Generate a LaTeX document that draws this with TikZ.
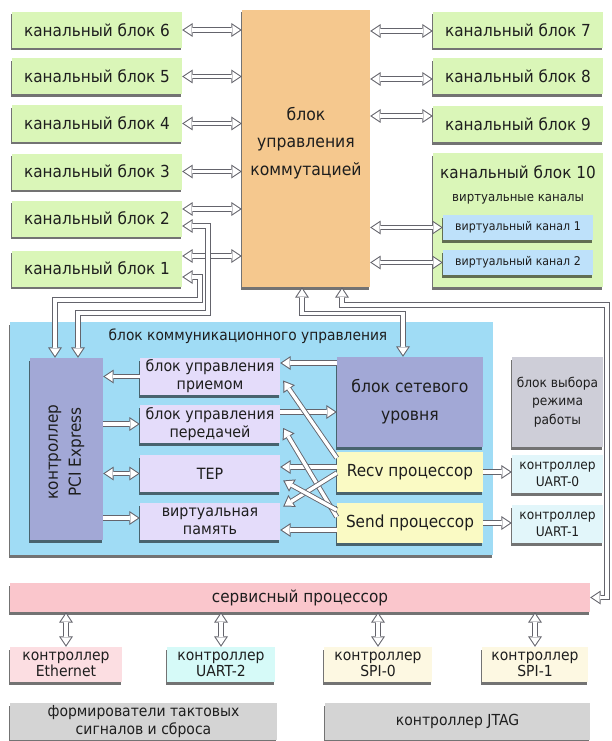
\documentclass[tikz,border=0pt]{standalone}
\usepackage{fontspec}
\setmainfont{DejaVu Sans}[FakeStretch=0.92]
\usetikzlibrary{arrows.meta,shadows}
\definecolor{txt}{RGB}{30,30,30}
\definecolor{agray}{RGB}{100,100,108}
\definecolor{cgreen}{RGB}{218,246,184}
\definecolor{corange}{RGB}{245,200,142}
\definecolor{cvc}{RGB}{190,225,250}
\definecolor{ccomm}{RGB}{160,220,245}
\definecolor{cpci}{RGB}{162,168,214}
\definecolor{clav}{RGB}{228,220,250}
\definecolor{cyel}{RGB}{250,250,196}
\definecolor{cmode}{RGB}{206,206,216}
\definecolor{cuart}{RGB}{226,246,250}
\definecolor{csp}{RGB}{250,198,204}
\definecolor{ceth}{RGB}{252,222,226}
\definecolor{cua2}{RGB}{214,250,248}
\definecolor{cspi}{RGB}{253,248,226}
\definecolor{cbot}{RGB}{212,212,212}
\tikzset{
  ho/.tip={Triangle[length=10.5pt, width=14pt, line width=0pt]},
  hi/.tip={Triangle[length=7.6pt, width=10.2pt, line width=0pt]},
  aout/.style={draw=agray, fill=none, line width=5.2pt},
  ain/.style={draw=white, fill=none, line width=3.4pt},
}
% hollow double arrow, tips at both ends / at the end only
\newcommand\harrB[1]{\draw[aout, ho-ho] #1; \draw[ain, hi-hi, shorten >=1.85pt, shorten <=1.85pt] #1;}
\newcommand\harrE[1]{\draw[aout, -ho] #1; \draw[ain, -hi, shorten >=1.85pt] #1;}
\begin{document}
\begin{tikzpicture}[x=1pt,y=-1pt,
  box/.style={draw=none, inner sep=1pt, align=center, text=txt,
    drop shadow={shadow xshift=-1pt, shadow yshift=-2.5pt, fill=black, opacity=0.55}},
  chan/.style={box, fill=cgreen, minimum width=170pt, minimum height=36pt, font=\fontsize{16.6}{19}\selectfont},
]
\useasboundingbox (0,0) rectangle (611,741);

% ---- channel blocks, left
\node[chan] (b6) at (97,30) {канальный блок 6};
\node[chan] (b5) at (97,76.5) {канальный блок 5};
\node[chan] (b4) at (97,123.5) {канальный блок 4};
\node[chan] (b3) at (97,171.5) {канальный блок 3};
\node[chan] (b2) at (97,218.5) {канальный блок 2};
\node[chan] (b1) at (97,268.5) {канальный блок 1};

% ---- switch control
\node[box, fill=corange, minimum width=128pt, minimum height=277pt] (kom) at (306,148.5) {};
\node[text=txt, align=center, font=\fontsize{17}{27.5}\selectfont] (komt) at (306,143) {блок\\управления\\коммутацией};

% ---- channel blocks, right
\node[chan] (b7) at (518,30) {канальный блок 7};
\node[chan] (b8) at (518,76.5) {канальный блок 8};
\node[chan] (b9) at (518,124) {канальный блок 9};
\node[box, fill=cgreen, minimum width=170pt, minimum height=134pt] (b10) at (518,220) {};
\node[text=txt, font=\fontsize{16.6}{19}\selectfont] (b10t) at (518,172) {канальный блок 10};
\node[text=txt, font=\fontsize{12.8}{15}\selectfont] (b10s) at (518,199) {виртуальные каналы};
\node[box, fill=cvc, minimum width=150pt, minimum height=25pt, font=\fontsize{12}{14}\selectfont] (vc1) at (518,227.5) {виртуальный канал 1};
\node[box, fill=cvc, minimum width=150pt, minimum height=25pt, font=\fontsize{12}{14}\selectfont] (vc2) at (518,262.5) {виртуальный канал 2};

% ---- communication block
\node[box, fill=ccomm, minimum width=483pt, minimum height=233pt] (comm) at (251.5,438.5) {};
\node[text=txt, font=\fontsize{15}{17}\selectfont] (commt) at (248,336) {блок коммуникационного управления};

\node[box, fill=cpci, minimum width=73pt, minimum height=182pt] (pci) at (66.5,449) {};
\node[text=txt, rotate=90, align=center, font=\fontsize{16.6}{23}\selectfont] (pcit) at (66.5,452) {контроллер\\PCI Express};

\node[box, fill=clav, minimum width=140pt, minimum height=37pt, font=\fontsize{15.5}{18}\selectfont] (rx) at (210,376.5) {блок управления\\приемом};
\node[box, fill=clav, minimum width=140pt, minimum height=38pt, font=\fontsize{15.5}{18}\selectfont] (tx) at (210,424) {блок управления\\передачей};
\node[box, fill=clav, minimum width=140pt, minimum height=37pt, font=\fontsize{15.5}{18}\selectfont] (tep) at (210,473.5) {TEP};
\node[box, fill=clav, minimum width=140pt, minimum height=37pt, font=\fontsize{15.5}{18}\selectfont] (vm) at (210,521.5) {виртуальная\\память};

\node[box, fill=cpci, minimum width=146pt, minimum height=90pt, font=\fontsize{17}{28}\selectfont] (net) at (410,402) {блок сетевого\\уровня};
\node[box, fill=cyel, minimum width=146pt, minimum height=40pt, font=\fontsize{16.6}{18}\selectfont] (recv) at (410,472) {Recv процессор};
\node[box, fill=cyel, minimum width=146pt, minimum height=40pt, font=\fontsize{16.6}{18}\selectfont] (send) at (410,523) {Send процессор};

\node[box, fill=cmode, minimum width=91pt, minimum height=90pt, font=\fontsize{13.3}{18.5}\selectfont] (mode) at (557.5,402) {блок выбора\\режима\\работы};
\node[box, fill=cuart, minimum width=91pt, minimum height=38pt, font=\fontsize{13.3}{17}\selectfont] (u0) at (557.5,474) {контроллер\\UART-0};
\node[box, fill=cuart, minimum width=91pt, minimum height=38pt, font=\fontsize{13.3}{17}\selectfont] (u1) at (557.5,524) {контроллер\\UART-1};

% ---- service processor and peripherals
\node[box, fill=csp, minimum width=580pt, minimum height=29pt, font=\fontsize{16.6}{18}\selectfont] (sp) at (300,597.5) {сервисный процессор};
\node[box, fill=ceth, minimum width=112pt, minimum height=35pt, font=\fontsize{15.2}{16.5}\selectfont] (eth) at (66,664.5) {контроллер\\Ethernet};
\node[box, fill=cua2, minimum width=108pt, minimum height=35pt, font=\fontsize{15.2}{16.5}\selectfont] (ua2) at (221,664.5) {контроллер\\UART-2};
\node[box, fill=cspi, minimum width=108pt, minimum height=35pt, font=\fontsize{15.2}{16.5}\selectfont] (spi0) at (378,664.5) {контроллер\\SPI-0};
\node[box, fill=cspi, minimum width=106pt, minimum height=35pt, font=\fontsize{15.2}{16.5}\selectfont] (spi1) at (535,664.5) {контроллер\\SPI-1};
\node[box, fill=cbot, minimum width=267pt, minimum height=37pt, font=\fontsize{15.2}{18}\selectfont] (clk) at (143.5,721.5) {формирователи тактовых\\сигналов и сброса};
\node[box, fill=cbot, minimum width=265pt, minimum height=37pt, font=\fontsize{15.2}{18}\selectfont] (jtag) at (457.5,721.5) {контроллер JTAG};

% ---- connectors: left channels
\foreach \n in {6,5,4,3} {\harrB{(b\n.east) -- (b\n.east -| kom.west)}}
\coordinate (l2) at ([yshift=9.5pt]b2.east);
\coordinate (l1) at ([yshift=12.5pt]b1.east);
\harrB{(l2) -- (l2 -| kom.west)}
\harrB{(l1) -- (l1 -| kom.west)}

% ---- right channels
\coordinate (r7) at ([yshift=-1pt]b7.west);
\coordinate (r8) at ([yshift=-2.5pt]b8.west);
\coordinate (r9) at ([yshift=8pt]b9.west);
\harrB{(r7 -| kom.east) -- (r7)}
\harrB{(r8 -| kom.east) -- (r8)}
\harrB{(r9 -| kom.east) -- (r9)}
\harrB{(vc1.west -| kom.east) -- (vc1.west)}
\harrB{(vc2.west -| kom.east) -- (vc2.west)}

% ---- channel 2/1 to PCI Express
\coordinate (c2) at ([yshift=-7.5pt]b2.east);
\coordinate (c1) at ([yshift=-8.5pt]b1.east);
\harrB{(c2) -| (208,313) -| ([xshift=11.5pt]pci.north)}
\harrB{(c1) -| (200,300) -| ([xshift=-11.5pt]pci.north)}

% ---- switch control down
\harrB{([xshift=-4pt]kom.south) -- ++(0,26) -| ([xshift=-7pt]net.north)}
\harrB{([xshift=36pt]kom.south) |- (607,305) |- (sp.east)}

% ---- PCI to inner blocks
\harrE{(rx.west) -- (rx.west -| pci.east)}
\harrE{(tx.west -| pci.east) -- (tx.west)}
\harrB{(tep.west -| pci.east) -- (tep.west)}
\coordinate (v1) at ([yshift=3.5pt]vm.west);
\harrE{(v1 -| pci.east) -- (v1)}

% ---- network / processors to inner blocks
\coordinate (n1) at ([yshift=13.5pt]rx.east);
\coordinate (n2) at ([yshift=12pt]tx.east);
\coordinate (n3) at ([yshift=6.5pt]tep.east);
\coordinate (n4) at ([yshift=-8.5pt]vm.east);
\harrE{(n1 -| net.west) -- (n1)}
\harrE{(n2) -- (n2 -| net.west)}
\harrE{(n3 -| recv.west) -- (n3)}
\harrE{(n4 -| send.west) -- (n4)}
\harrE{([yshift=14pt]recv.west) -- ([xshift=3pt,yshift=-4pt]rx.east)}
\harrE{([yshift=6pt]send.west) -- ([xshift=3pt,yshift=-4pt]tx.east)}
\harrE{([yshift=-1pt]recv.west) -- ([xshift=3pt,yshift=15pt]vm.east)}
\harrE{([yshift=13pt]send.west) -- ([xshift=3pt,yshift=-7pt]tep.east)}

% ---- processors to UART
\harrE{(recv.east) -- (recv.east -| u0.west)}
\harrE{(send.east) -- (send.east -| u1.west)}

% ---- service processor to peripherals
\foreach \n in {eth,ua2,spi0,spi1} {\harrB{(\n.north) -- (\n.north |- sp.south)}}
\end{tikzpicture}
\end{document}
